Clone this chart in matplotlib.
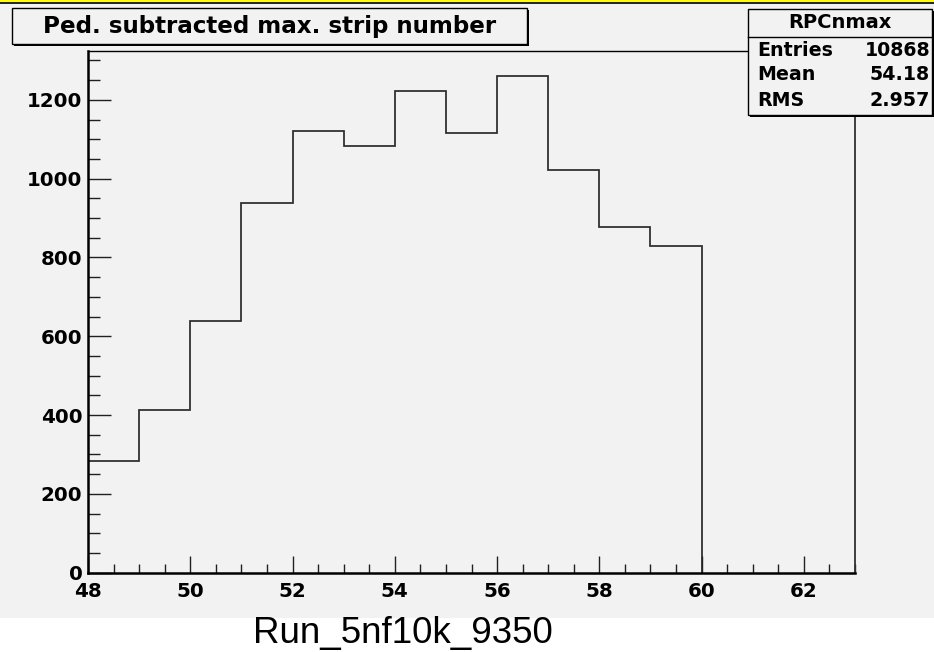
import numpy as np
import matplotlib
matplotlib.use('Agg')
import matplotlib.pyplot as plt
from matplotlib.patches import Rectangle
from matplotlib.lines import Line2D
from matplotlib.ticker import MultipleLocator

# histogram contents
bin_edges = [48, 49, 50, 51, 52, 53, 54, 55, 56, 57, 58, 59, 60]
counts = [284, 413, 640, 939, 1121, 1082, 1222, 1117, 1261, 1022, 878, 830]

title = 'Ped. subtracted max. strip number'
hist_name = 'RPCnmax'
stat_names = ['Entries', 'Mean', 'RMS']
stat_values = ['10868', '54.18', '2.957']
run_label = 'Run_5nf10k_9350'

W, H = 934, 652
GRAY = '#f2f2f2'
ROOT_FONT = 'DejaVu Sans'


def fx(px):
    return px / W


def fy(py):
    return 1 - py / H


def box(fig, x0, y0, x1, y1, shadow=2):
    # ROOT style box with drop shadow on right/bottom
    fig.add_artist(Rectangle((fx(x0 + shadow), fy(y1 + shadow)), fx(x1 - x0), (y1 - y0) / H,
                             transform=fig.transFigure, facecolor='black', edgecolor='none', zorder=10))
    fig.add_artist(Rectangle((fx(x0), fy(y1)), fx(x1 - x0), (y1 - y0) / H,
                             transform=fig.transFigure, facecolor=GRAY, edgecolor='black',
                             linewidth=1.0, zorder=11))


def main():
    fig = plt.figure(figsize=(W / 100, H / 100), dpi=100, facecolor='white')

    # gray canvas pad, white strip below it
    fig.add_artist(Rectangle((0, fy(618)), 1, 618 / H, transform=fig.transFigure,
                             facecolor=GRAY, edgecolor='none', zorder=0))
    fig.add_artist(Line2D([0, 1], [fy(0.8), fy(0.8)], transform=fig.transFigure,
                          color='#ffff00', linewidth=1.4, zorder=12))
    fig.add_artist(Line2D([0, 1], [fy(3.0), fy(3.0)], transform=fig.transFigure,
                          color='black', linewidth=1.2, zorder=12))

    ax = fig.add_axes([fx(88), fy(572.7), fx(855 - 88), (572.7 - 51) / H])
    ax.set_facecolor(GRAY)

    ax.stairs(counts, bin_edges, baseline=0, color='#2a2a2a', linewidth=1.25)

    ax.set_xlim(48, 63)
    ax.set_ylim(0, 1.05 * max(counts))

    ax.xaxis.set_major_locator(MultipleLocator(2))
    ax.xaxis.set_minor_locator(MultipleLocator(0.5))
    ax.yaxis.set_major_locator(MultipleLocator(200))
    ax.yaxis.set_minor_locator(MultipleLocator(50))

    ax.tick_params(axis='both', which='both', direction='in', top=False, right=False,
                   color='#202020', width=1.0)
    ax.tick_params(axis='y', which='major', length=16.5, pad=4)
    ax.tick_params(axis='y', which='minor', length=8.6)
    ax.tick_params(axis='x', which='major', length=12, pad=6.5)
    ax.tick_params(axis='x', which='minor', length=6.5)

    for lab in ax.get_xticklabels() + ax.get_yticklabels():
        lab.set_fontfamily(ROOT_FONT)
        lab.set_fontweight('bold')
        lab.set_fontsize(14.3)

    ax.spines['left'].set_linewidth(1.8)
    ax.spines['bottom'].set_linewidth(1.8)
    ax.spines['top'].set_linewidth(1.0)
    ax.spines['right'].set_linewidth(1.3)
    ax.spines['right'].set_color('#303030')

    # title box
    box(fig, 12, 8, 527, 44)
    fig.text(fx(269.5), fy(26), title, ha='center', va='center', fontsize=16.6,
             fontweight='bold', family=ROOT_FONT, zorder=13)

    # stats box
    box(fig, 748, 9, 932, 115, shadow=2)
    fig.add_artist(Line2D([fx(748), fx(932)], [fy(36.5), fy(36.5)], transform=fig.transFigure,
                          color='black', linewidth=1.0, zorder=12))
    fig.text(fx(840), fy(23), hist_name, ha='center', va='center', fontsize=14,
             fontweight='bold', family=ROOT_FONT, zorder=13)
    for i, (name, val) in enumerate(zip(stat_names, stat_values)):
        y = fy(50 + i * 25)
        fig.text(fx(757), y, name, ha='left', va='center', fontsize=13.7,
                 fontweight='bold', family=ROOT_FONT, zorder=13)
        fig.text(fx(930), y, val, ha='right', va='center', fontsize=13.7,
                 fontweight='bold', family=ROOT_FONT, zorder=13)

    fig.text(fx(403), fy(643), run_label, ha='center', va='baseline', fontsize=26.5,
             family='Liberation Sans')

    fig.savefig('out.png', dpi=100, facecolor=fig.get_facecolor())


if __name__ == '__main__':
    main()
